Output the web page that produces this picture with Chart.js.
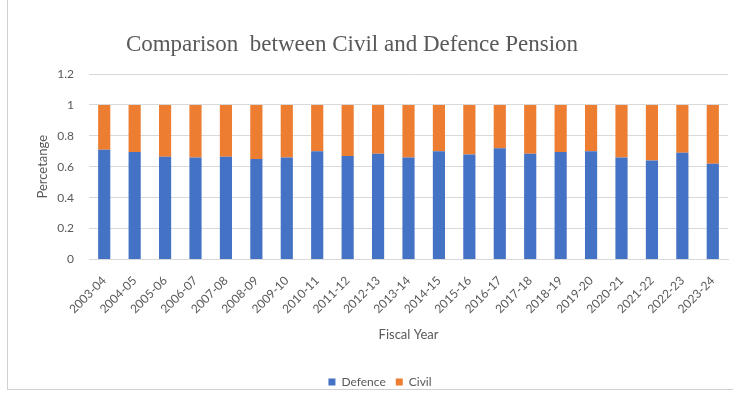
<!DOCTYPE html>
<html><head><meta charset="utf-8">
<script src="https://cdn.jsdelivr.net/npm/chart.js@4/dist/chart.umd.min.js"></script>
<style>
html,body{margin:0;padding:0;background:#fff;}
#wrap{position:absolute;left:0;top:0;width:733px;height:394px;}
#frame{position:absolute;left:7px;top:0;width:726px;height:389px;border-left:1px solid #d0d0d0;border-bottom:1px solid #d0d0d0;}
canvas{position:absolute;left:0;top:0;}
</style></head>
<body><div id="wrap"><div id="frame"></div><canvas id="c" width="733" height="394"></canvas></div>
<script>
const titleText = "Comparison  between Civil and Defence Pension";
const categories = ["2003-04","2004-05","2005-06","2006-07","2007-08","2008-09","2009-10","2010-11","2011-12","2012-13","2013-14","2014-15","2015-16","2016-17","2017-18","2018-19","2019-20","2020-21","2021-22","2022-23","2023-24"];
const defence = [0.71,0.695,0.665,0.66,0.665,0.65,0.66,0.70,0.67,0.685,0.66,0.70,0.68,0.72,0.685,0.695,0.70,0.66,0.64,0.69,0.62];
const civil = defence.map(v => +(1 - v).toFixed(3));
const yTicks = [0,0.2,0.4,0.6,0.8,1,1.2];

const titlePlugin = {
  id:'customTitle',
  afterDraw(chart){
    const ctx = chart.ctx;
    ctx.save();
    ctx.font = '23px "Liberation Serif"';
    ctx.fillStyle = '#595959';
    ctx.textAlign = 'center';
    ctx.textBaseline = 'middle';
    ctx.fillText(titleText, 352, 45);
    ctx.restore();
  }
};

new Chart(document.getElementById('c'), {
  type: 'bar',
  data: {
    labels: categories,
    datasets: [
      {label:'Defence', data: defence, backgroundColor:'#4472C4', barPercentage:0.8, categoryPercentage:0.5},
      {label:'Civil', data: civil, backgroundColor:'#ED7D31', barPercentage:0.8, categoryPercentage:0.5}
    ]
  },
  plugins:[titlePlugin],
  options: {
    responsive:false, animation:false,
    layout:{padding:{left:32,right:5,top:74,bottom:-4}},
    plugins:{
      title:{display:false},
      legend:{position:'bottom',labels:{boxWidth:7,boxHeight:7,color:'#595959',font:{family:'Lato',size:12},padding:10}},
      tooltip:{enabled:false}
    },
    scales:{
      x:{stacked:true,grid:{display:false},border:{color:'#d9d9d9'},
        ticks:{color:'#595959',font:{family:'Lato',size:12},minRotation:45,maxRotation:45,autoSkip:false,padding:6},
        title:{display:true,text:'Fiscal Year',color:'#595959',font:{family:'Lato',size:13},padding:{top:5,bottom:23}}},
      y:{stacked:true,min:0,max:1.2,afterBuildTicks:(a)=>{a.ticks=yTicks.map(v=>({value:v}));},
        afterFit:(s)=>{s.width=57;},
        grid:{color:'#d9d9d9',drawTicks:false},border:{display:false},
        ticks:{color:'#595959',font:{family:'Lato',size:12},padding:15,callback:(v)=>String(+v.toFixed(1))},
        title:{display:true,text:'Percetange',color:'#595959',font:{family:'Lato',size:13},padding:{top:3,bottom:0}}}
    }
  }
});
</script></body></html>
